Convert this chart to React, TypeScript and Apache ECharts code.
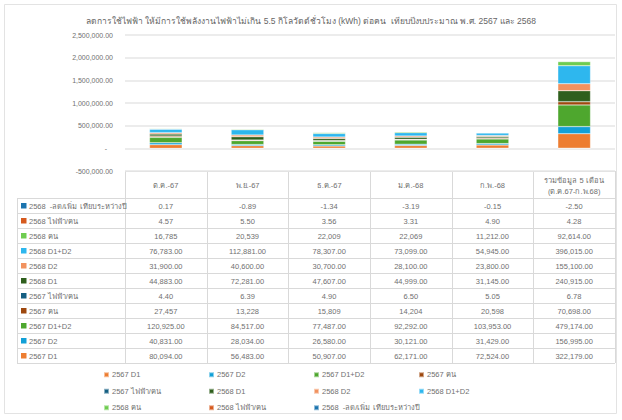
import React, { useEffect, useRef } from "react";
import * as echarts from "echarts";

const title =
  "ลดการใช้ไฟฟ้า ให้มีการใช้พลังงานไฟฟ้าไม่เกิน 5.5 กิโลวัตต์ชั่วโมง (kWh) ต่อคน  เทียบปีงบประมาณ พ.ศ. 2567 และ 2568";
const categories = [
  "ต.ค.-67",
  "พ.ย.-67",
  "ธ.ค.-67",
  "ม.ค.-68",
  "ก.พ.-68",
  "รวมข้อมูล 5 เดือน\n(ต.ค.67-ก.พ.68)",
];
const seriesNames = [
  "2567 D1",
  "2567 D2",
  "2567 D1+D2",
  "2567 คน",
  "2567 ไฟฟ้า/คน",
  "2568 D1",
  "2568 D2",
  "2568 D1+D2",
  "2568 คน",
  "2568 ไฟฟ้า/คน",
  "2568  -ลด/เพิ่ม เทียบระหว่างปี",
];
const colors = [
  "#ED7D31",
  "#12A0D7",
  "#4EA72E",
  "#9E480E",
  "#155F82",
  "#2F5F1D",
  "#F1925F",
  "#2EB7EE",
  "#6FCC50",
  "#D65A1E",
  "#1C74AE",
];

const d1_2567 = [80094, 56483, 50907, 62171, 72524, 322179];
const d2_2567 = [40831, 28034, 26580, 30121, 31429, 156995];
const d12_2567 = [120925, 84517, 77487, 92292, 103953, 479174];
const people_2567 = [27457, 13228, 15809, 14204, 20598, 70698];
const perPerson_2567 = [4.4, 6.39, 4.9, 6.5, 5.05, 6.78];
const d1_2568 = [44883, 72281, 47607, 44999, 31145, 240915];
const d2_2568 = [31900, 40600, 30700, 28100, 23800, 155100];
const d12_2568 = [76783, 112881, 78307, 73099, 54945, 396015];
const people_2568 = [16785, 20539, 22009, 22069, 11212, 92614];
const perPerson_2568 = [4.57, 5.5, 3.56, 3.31, 4.9, 4.28];
const change_2568 = [0.17, -0.89, -1.34, -3.19, -0.15, -2.5];

// decimals shown in the data table per series
const decimals_people_2567 = [0, 0, 0, 0, 0, 2];
const decimals_people_2568 = [0, 0, 0, 0, 2, 2];

const seriesData = [
  d1_2567,
  d2_2567,
  d12_2567,
  people_2567,
  perPerson_2567,
  d1_2568,
  d2_2568,
  d12_2568,
  people_2568,
  perPerson_2568,
  change_2568,
];
const seriesDecimals = seriesData.map((arr, i) =>
  i === 3 ? decimals_people_2567 : i === 8 ? decimals_people_2568 : arr.map(() => 2)
);

const yMin = -500000;
const yMax = 2500000;
const yInterval = 500000;

const FONT = "'Liberation Sans', Arial, sans-serif";
const TXT = "#707070";
const LINE = "#d9d9d9";

function fmt(v: number, d: number) {
  return v.toLocaleString("en-US", { minimumFractionDigits: d, maximumFractionDigits: d });
}

export default function App() {
  const ref = useRef<HTMLDivElement>(null);
  useEffect(() => {
    if (!ref.current) return;
    const chart = echarts.init(ref.current, null, { renderer: "svg" });

    const W = 622;
    const gridLeft = 125;
    const gridRight = 615;
    const gridTop = 35;
    const gridBottomY = 171;
    const headerBottom = 198;
    const rowH = 15;
    const labelLeft = 17;
    const nCols = categories.length;
    const colW = (gridRight - gridLeft) / nCols;
    const nRows = seriesNames.length;
    const tableBottom = headerBottom + rowH * nRows;

    const g: any[] = [];
    g.push({
      type: "rect",
      shape: { x: 4.5, y: 4.5, width: 612, height: 409 },
      style: { fill: "none", stroke: "#e3e3e3", lineWidth: 1 },
      silent: true,
    });
    g.push({
      type: "line",
      shape: { x1: gridLeft, y1: gridBottomY + 0.5, x2: gridRight, y2: gridBottomY + 0.5 },
      style: { stroke: LINE, lineWidth: 1 },
    });
    for (let r = 0; r <= nRows; r++) {
      const y = headerBottom + r * rowH + 0.5;
      g.push({
        type: "line",
        shape: { x1: labelLeft, y1: y, x2: gridRight, y2: y },
        style: { stroke: LINE, lineWidth: 1 },
      });
    }
    g.push({
      type: "line",
      shape: { x1: labelLeft + 0.5, y1: headerBottom, x2: labelLeft + 0.5, y2: tableBottom },
      style: { stroke: LINE, lineWidth: 1 },
    });
    for (let c = 0; c <= nCols; c++) {
      const x = Math.round(gridLeft + c * colW) + 0.5;
      g.push({
        type: "line",
        shape: { x1: x, y1: gridBottomY, x2: x, y2: tableBottom },
        style: { stroke: LINE, lineWidth: 1 },
      });
    }
    categories.forEach((cat, c) => {
      g.push({
        type: "text",
        x: gridLeft + (c + 0.5) * colW,
        y: (gridBottomY + headerBottom) / 2 + 1,
        style: {
          text: cat,
          fill: TXT,
          font: `7.5px ${FONT}`,
          align: "center",
          verticalAlign: "middle",
          lineHeight: 11,
        },
      });
    });
    for (let r = 0; r < nRows; r++) {
      const si = nRows - 1 - r;
      const cy = headerBottom + r * rowH + rowH / 2 + 0.5;
      g.push({
        type: "rect",
        shape: { x: 21, y: cy - 3, width: 5.5, height: 5.5 },
        style: { fill: colors[si] },
      });
      g.push({
        type: "text",
        x: 29,
        y: cy,
        style: {
          text: seriesNames[si],
          fill: TXT,
          font: `7.5px ${FONT}`,
          align: "left",
          verticalAlign: "middle",
        },
      });
      seriesData[si].forEach((v, c) => {
        g.push({
          type: "text",
          x: gridLeft + (c + 0.5) * colW,
          y: cy,
          style: {
            text: fmt(v, seriesDecimals[si][c]),
            fill: TXT,
            font: `7.5px ${FONT}`,
            align: "center",
            verticalAlign: "middle",
          },
        });
      });
    }

    chart.setOption({
      animation: false,
      color: colors,
      title: {
        text: title,
        left: "center",
        top: 11,
        textStyle: { fontSize: 8.5, fontWeight: "normal", color: "#666666", fontFamily: FONT },
      },
      grid: {
        left: gridLeft,
        right: W - gridRight,
        top: gridTop,
        height: gridBottomY - gridTop,
        containLabel: false,
      },
      legend: {
        data: seriesNames,
        left: 103,
        top: 367,
        width: 440,
        itemWidth: 5,
        itemHeight: 5,
        itemGap: 1,
        icon: "rect",
        orient: "horizontal",
        padding: 0,
        selectedMode: false,
        textStyle: {
          fontSize: 7.5,
          color: TXT,
          fontFamily: FONT,
          width: 95,
          overflow: "none",
          padding: [0, 0, 0, -2],
          lineHeight: 15.5,
        },
      },
      xAxis: {
        type: "category",
        data: categories,
        axisLabel: { show: false },
        axisLine: { show: false },
        axisTick: { show: false },
      },
      yAxis: {
        type: "value",
        min: yMin,
        max: yMax,
        interval: yInterval,
        axisLine: { show: false },
        axisTick: { show: false },
        splitLine: { lineStyle: { color: "#e6e6e6", width: 1.5 } },
        axisLabel: {
          color: TXT,
          fontSize: 7,
          fontFamily: FONT,
          margin: 12,
          formatter: (v: number) => (v === 0 ? "-   " : fmt(v, 2)),
        },
      },
      series: seriesNames.map((name, i) => ({
        name,
        type: "bar",
        stack: "total",
        barWidth: "40%",
        data: seriesData[i],
        itemStyle: { color: colors[i], borderColor: "rgba(255,255,255,0.5)", borderWidth: 0.5 },
      })),
      graphic: g,
    });
    return () => chart.dispose();
  }, []);
  return (
    <div
      ref={ref}
      style={{ position: "fixed", left: 0, top: 0, width: 622, height: 420, background: "#fff" }}
    />
  );
}
